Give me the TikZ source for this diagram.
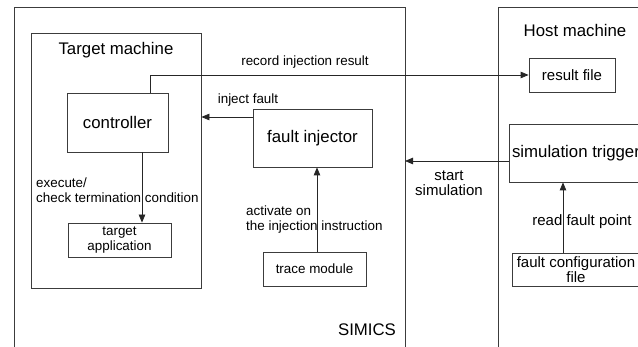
\documentclass[tikz,border=0pt]{standalone}
\usepackage{fontspec}
\setmainfont{Liberation Sans}
\usepackage{tikz}
\usetikzlibrary{arrows.meta,calc}
\definecolor{edge}{RGB}{60,60,60}
\tikzset{
  blk/.style={draw=edge, line width=0.8pt, inner sep=0pt, align=center, font=\fontsize{13.4}{15}\selectfont},
  frame/.style={draw=edge, line width=0.8pt},
  lbl/.style={inner sep=0pt, font=\fontsize{13.4}{15}\selectfont},
  mid/.style={font=\fontsize{15}{15.5}\selectfont},
  big/.style={inner sep=0pt, font=\fontsize{16.8}{19}\selectfont},
  arr/.style={-{Triangle[length=8pt,width=6.5pt]}, line width=0.8pt, draw=black!85}
}
\begin{document}
\begin{tikzpicture}[x=1pt, y=1pt]
  \useasboundingbox (0,0) rectangle (638,347);
  \clip (0,0) rectangle (638,347);
  \fill[white] (0,0) rectangle (638,347);
  % frames
  \draw[frame] (14,-15) rectangle (405,340);
  \draw[frame] (498,-15) rectangle (660,340);
  \node[frame, minimum width=170pt, minimum height=255pt] (target) at (116,186.5) {};
  \node[big] (tmlabel) at (116,297) {Target machine};
  \node[big] (hmlabel) at (575,316) {Host machine};
  \node[big] (simics) at (367,17) {SIMICS};
  % blocks
  \node[blk, font=\fontsize{16.8}{19}\selectfont, minimum width=101pt, minimum height=59pt] (ctrl) at (117.5,224.5) {controller};
  \node[blk, font=\fontsize{16.8}{19}\selectfont, minimum width=119pt, minimum height=58pt] (inj) at (312.5,209) {fault injector};
  \node[blk, minimum width=103pt, minimum height=34pt] (app) at (119.5,107) {target\\application};
  \node[blk, minimum width=103pt, minimum height=34pt] (trace) at (314.5,78) {trace module};
  \node[blk, mid, minimum width=86pt, minimum height=34pt] (res) at (572,272) {result file};
  \node[blk, font=\fontsize{16.8}{19}\selectfont, minimum width=134pt, minimum height=58pt] (trig) at (576,194) {simulation trigger};
  \node[blk, mid, minimum width=128pt, minimum height=33pt] (cfg) at (576,77.5) {fault configuration\\file};
  % connectors
  \draw[arr] ([xshift=32.5pt]ctrl.north) |- (res.west);
  \node[lbl] (reclbl) at (305,285) {record injection result};
  \draw[arr] ([yshift=21pt]inj.west) coordinate (injout) -- (injout -| target.east);
  \node[lbl] (injlbl) at (248,247) {inject fault};
  \draw[arr] ([yshift=-8pt]trig.west) coordinate (trigout) -- (trigout -| 405,0);
  \node[lbl, mid, align=center] (startlbl) at (449,164) {start\\simulation};
  \draw[arr] ([xshift=24.5pt]ctrl.south) coordinate (ctrlout) -- (ctrlout |- app.north);
  \node[lbl, align=left, anchor=west] (execlbl) at (36,157) {execute/\\check termination condition};
  \draw[arr] ([xshift=2.5pt]trace.north) coordinate (traceout) -- (traceout |- inj.south);
  \node[lbl, align=left, anchor=west] (actlbl) at (246,127) {activate on\\the injection instruction};
  \draw[arr] ([xshift=-13pt]cfg.north) coordinate (cfgout) -- (cfgout |- trig.south);
  \node[lbl, mid] (readlbl) at (582,125) {read fault point};
\end{tikzpicture}
\end{document}
